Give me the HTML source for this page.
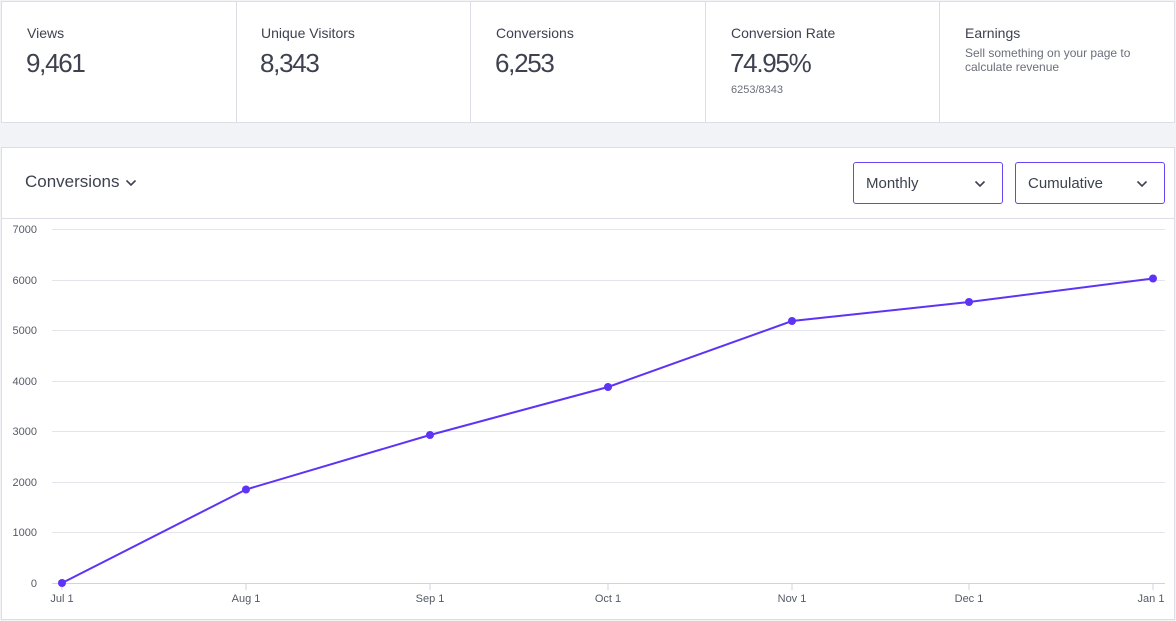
<!DOCTYPE html>
<html><head><meta charset="utf-8"><style>
*{margin:0;padding:0;box-sizing:border-box}
body{width:1176px;height:621px;background:#f2f3f7;font-family:"Liberation Sans",sans-serif;position:relative;overflow:hidden;color:#3e4250}
.top{position:absolute;left:1px;top:1px;width:1174px;height:122px;background:#fff;border:1px solid #dcdde6}
.div{position:absolute;top:0;width:1px;height:120px;background:#dcdde6}
.lbl{position:absolute;top:23px;font-size:14px;color:#3e4250}
.val{position:absolute;top:46px;font-size:26px;color:#3e4250;letter-spacing:-1.3px}
.sub{position:absolute;font-size:11px;color:#6b6f7b}
.panel{position:absolute;left:1px;top:147px;width:1174px;height:473px;background:#fff;border:1px solid #dcdde6}
.btn{position:absolute;top:14px;width:150px;height:42px;border:1px solid #6a45f2;border-radius:3px;font-size:15px;color:#3e4250;padding:12px 0 0 12px}
</style></head><body>
<div class="top">
  <div class="div" style="left:234px"></div>
  <div class="div" style="left:468px"></div>
  <div class="div" style="left:703px"></div>
  <div class="div" style="left:937px"></div>
  <div class="lbl" style="left:25px">Views</div>
  <div class="val" style="left:24px">9,461</div>
  <div class="lbl" style="left:259px">Unique Visitors</div>
  <div class="val" style="left:258px">8,343</div>
  <div class="lbl" style="left:494px">Conversions</div>
  <div class="val" style="left:493px">6,253</div>
  <div class="lbl" style="left:729px">Conversion Rate</div>
  <div class="val" style="left:728px">74.95%</div>
  <div class="sub" style="left:729px;top:82px">6253/8343</div>
  <div class="lbl" style="left:963px">Earnings</div>
  <div class="sub" style="left:963px;top:44px;font-size:12px;line-height:14px">Sell something on your page to<br>calculate revenue</div>
</div>
<div class="panel">
  <div style="position:absolute;left:23px;top:24px;font-size:17px;color:#3e4250">Conversions</div>
  <svg style="position:absolute;left:123px;top:31px" width="12" height="8"><path d="M1.5 1.5 L6 6 L10.5 1.5" fill="none" stroke="#3e4250" stroke-width="1.6"/></svg>
  <div class="btn" style="left:851px">Monthly<svg style="position:absolute;left:120px;top:17px" width="12" height="8"><path d="M1.5 1.5 L6 6 L10.5 1.5" fill="none" stroke="#3e4250" stroke-width="1.6"/></svg></div>
  <div class="btn" style="left:1013px">Cumulative<svg style="position:absolute;left:120px;top:17px" width="12" height="8"><path d="M1.5 1.5 L6 6 L10.5 1.5" fill="none" stroke="#3e4250" stroke-width="1.6"/></svg></div>
  <div style="position:absolute;left:0;top:70px;width:1172px;height:1px;background:#dcdde6"></div>
</div>
<svg style="position:absolute;left:0;top:0" width="1176" height="621">
  <g stroke="#e4e4ea" stroke-width="1">
    <line x1="52" x2="1165" y1="229.5" y2="229.5"/>
    <line x1="52" x2="1165" y1="280.5" y2="280.5"/>
    <line x1="52" x2="1165" y1="330.5" y2="330.5"/>
    <line x1="52" x2="1165" y1="381.5" y2="381.5"/>
    <line x1="52" x2="1165" y1="431.5" y2="431.5"/>
    <line x1="52" x2="1165" y1="482.5" y2="482.5"/>
    <line x1="52" x2="1165" y1="532.5" y2="532.5"/>
  </g>
  <line x1="52" x2="1165" y1="583.5" y2="583.5" stroke="#cdd3e3"/>
  <g stroke="#cdd3e3">
    <line x1="62" x2="62" y1="583" y2="590"/>
    <line x1="246" x2="246" y1="583" y2="590"/>
    <line x1="430" x2="430" y1="583" y2="590"/>
    <line x1="608" x2="608" y1="583" y2="590"/>
    <line x1="792" x2="792" y1="583" y2="590"/>
    <line x1="969" x2="969" y1="583" y2="590"/>
    <line x1="1153" x2="1153" y1="583" y2="590"/>
  </g>
  <g font-family="Liberation Sans, sans-serif" font-size="11" fill="#555a66" text-anchor="end">
    <text x="37" y="233">7000</text>
    <text x="37" y="284">6000</text>
    <text x="37" y="334">5000</text>
    <text x="37" y="385">4000</text>
    <text x="37" y="435">3000</text>
    <text x="37" y="486">2000</text>
    <text x="37" y="536">1000</text>
    <text x="37" y="587">0</text>
  </g>
  <g font-family="Liberation Sans, sans-serif" font-size="11" fill="#555a66" text-anchor="middle">
    <text x="62" y="602">Jul 1</text>
    <text x="246" y="602">Aug 1</text>
    <text x="430" y="602">Sep 1</text>
    <text x="608" y="602">Oct 1</text>
    <text x="792" y="602">Nov 1</text>
    <text x="969" y="602">Dec 1</text>
    <text x="1151" y="602">Jan 1</text>
  </g>
  <polyline points="62,583 246,489.5 430,435 608,387 792,321 969,302 1153,278.5" fill="none" stroke="#5e33f6" stroke-width="2"/>
  <g fill="#5e33f6">
    <circle cx="62" cy="583" r="4"/>
    <circle cx="246" cy="489.5" r="4"/>
    <circle cx="430" cy="435" r="4"/>
    <circle cx="608" cy="387" r="4"/>
    <circle cx="792" cy="321" r="4"/>
    <circle cx="969" cy="302" r="4"/>
    <circle cx="1153" cy="278.5" r="4"/>
  </g>
</svg>
</body></html>
